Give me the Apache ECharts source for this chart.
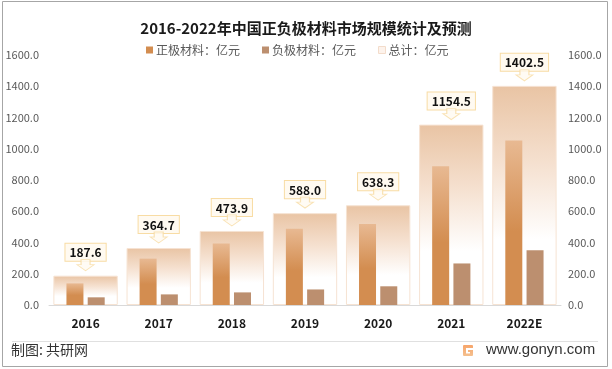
<!DOCTYPE html>
<html><head><meta charset="utf-8">
<script src="https://cdn.jsdelivr.net/npm/echarts@6/dist/echarts.min.js"></script>
<style>html,body{margin:0;padding:0;background:#fff}#c{width:612px;height:369px}</style>
</head><body><div id="c"></div>
<script>
const categories = ['2016','2017','2018','2019','2020','2021','2022E'];
const cathode = [138.5, 296.8, 393.2, 488.5, 518.6, 888.6, 1052.7];
const anode = [49.1, 67.9, 80.7, 99.5, 119.7, 265.9, 349.8];
const total = [187.6, 364.7, 473.9, 588.0, 638.3, 1154.5, 1402.5];
const seriesNames = ['正极材料：亿元', '负极材料：亿元', '总计：亿元'];
const titleText = '2016-2022年中国正负极材料市场规模统计及预测';
const yMin = 0, yMax = 1600, yStep = 200;

const FONT = '"Noto Sans CJK SC", "Noto Sans", sans-serif';
const chart = echarts.init(document.getElementById('c'), null, {renderer: 'canvas'});
const yLabel = {color: '#595959', fontSize: 11, fontFamily: FONT, formatter: v => v.toFixed(1)};
chart.setOption({
  animation: false,
  textStyle: {fontFamily: FONT},
  title: {text: titleText, left: 'center', top: 16,
    textStyle: {fontSize: 15, fontWeight: 'bold', color: '#1a1a1a', fontFamily: FONT}},
  legend: {
    top: 39, left: 141, itemWidth: 7, itemHeight: 7, itemGap: 22, icon: 'rect',
    textStyle: {color: '#595959', fontSize: 12, fontFamily: FONT, padding: [0,0,0,-2]},
    data: [
      {name: seriesNames[0], itemStyle: {color: '#d38d50'}},
      {name: seriesNames[1], itemStyle: {color: '#bc8f6f'}},
      {name: seriesNames[2], itemStyle: {color: '#fdf3ec', borderColor: '#f3dccb', borderWidth: 1}}
    ]
  },
  grid: {left: 49, right: 51, top: 55, bottom: 64},
  xAxis: [
    {type: 'category', data: categories,
      axisLine: {lineStyle: {color: '#d9d9d9'}}, axisTick: {show: false},
      axisLabel: {color: '#1a1a1a', fontWeight: 'bold', fontSize: 12, margin: 12, fontFamily: FONT}},
    {type: 'category', data: categories, show: false}
  ],
  yAxis: [
    {type: 'value', min: yMin, max: yMax, interval: yStep, position: 'left',
      splitLine: {show: false}, axisLine: {show: false}, axisTick: {show: false},
      axisLabel: Object.assign({margin: 10}, yLabel)},
    {type: 'value', min: yMin, max: yMax, interval: yStep, position: 'right',
      splitLine: {show: false}, axisLine: {show: false}, axisTick: {show: false},
      axisLabel: Object.assign({margin: 7}, yLabel)}
  ],
  series: [
    {name: seriesNames[2], type: 'bar', xAxisIndex: 1, yAxisIndex: 0, data: total,
      barWidth: '88%', z: 1,
      itemStyle: {
        color: new echarts.graphic.LinearGradient(0,0,0,1,[
          {offset: 0, color: 'rgba(233,196,164,1)'},
          {offset: 0.35, color: 'rgba(245,224,207,1)'},
          {offset: 0.7, color: 'rgba(255,255,255,1)'},
          {offset: 1, color: 'rgba(255,255,255,1)'}]),
        borderColor: '#f6e3d3', borderWidth: 1},
      label: {show: true, position: 'top', distance: 15,
        formatter: p => p.value.toFixed(1),
        color: '#111', fontWeight: 'bold', fontSize: 12, fontFamily: FONT,
        backgroundColor: '#fffaf1', borderColor: '#f8dca4', borderWidth: 1,
        padding: [3, 4, 2, 4]}
    },
    {name: 'arrow', type: 'scatter', xAxisIndex: 1, yAxisIndex: 0, data: total,
      symbol: 'path://M4,0 L13,0 L13,5 L17,5 L8.5,11 L0,5 L4,5 Z',
      symbolSize: [17, 11], symbolOffset: [0, -10.5], z: 3,
      itemStyle: {color: '#fffaf1', borderColor: '#f8dca4', borderWidth: 1},
      silent: true, legendHoverLink: false},
    {name: seriesNames[0], type: 'bar', xAxisIndex: 0, data: cathode,
      barWidth: 17, barGap: '25%', z: 4,
      itemStyle: {color: new echarts.graphic.LinearGradient(0,0,0,1,[
        {offset: 0, color: '#e8b992'},
        {offset: 0.55, color: '#d38d50'},
        {offset: 1, color: '#d38d50'}])}},
    {name: seriesNames[1], type: 'bar', xAxisIndex: 0, data: anode,
      barWidth: 17, barGap: '25%', z: 4,
      itemStyle: {color: '#bc8f6f'}}
  ],
  graphic: [
    {type: 'rect', shape: {x: 2.5, y: 1.5, width: 605, height: 365},
      style: {fill: 'none', stroke: '#a6a6a6', lineWidth: 1}, z: 10},
    {type: 'line', shape: {x1: 12, y1: 341.5, x2: 598, y2: 341.5},
      style: {stroke: '#e0e0e0', lineWidth: 1}},
    {type: 'text', left: 11, top: 343,
      style: {text: '制图: 共研网', fill: '#333', fontSize: 14, fontFamily: FONT}},
    {type: 'group', left: 463, top: 345, children: [
      {type: 'rect', shape: {x: 0, y: 0, width: 10, height: 11, r: 1},
        style: {fill: new echarts.graphic.LinearGradient(0,0,0,1,[
          {offset: 0, color: '#f7a56a'}, {offset: 1, color: '#f4c08f'}])}},
      {type: 'rect', shape: {x: 3, y: 3, width: 7, height: 2}, style: {fill: '#fff'}},
      {type: 'rect', shape: {x: 3, y: 5, width: 2, height: 3}, style: {fill: '#fff'}},
      {type: 'rect', shape: {x: 3, y: 7, width: 4, height: 1.5}, style: {fill: '#fff'}}
    ]},
    {type: 'text', left: 486, top: 342,
      style: {text: 'www.gonyn.com', fill: '#333', fontSize: 15, fontFamily: '"Liberation Sans", Arial, sans-serif'}}
  ]
});
</script></body></html>
